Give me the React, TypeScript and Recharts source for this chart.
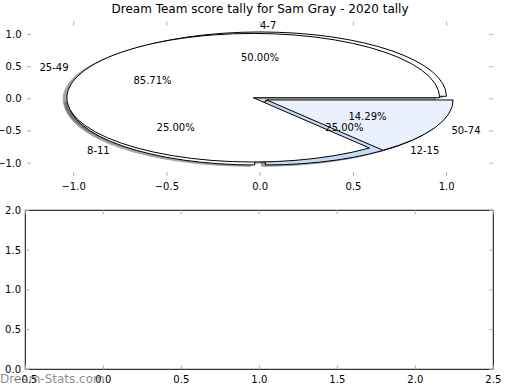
import { ComposedChart, Pie, PieChart, Scatter, XAxis, YAxis } from "recharts";

// first tally (small scores) and second tally (big scores)
const smallNames = ["4-7", "8-11", "12-15"];
const smallValues = [2, 1, 1];
const smallColors = ["#ffffff", "#ffffff", "#c6d9f7"];
const bigNames = ["25-49", "50-74"];
const bigValues = [6, 1];
const bigColors = ["#ffffff", "#eaf1fd"];

const topXTicks = [-1, -0.5, 0, 0.5, 1];
const topYTicks = [-1, -0.5, 0, 0.5, 1];
const bottomXTicks = [-0.5, 0, 0.5, 1, 1.5, 2, 2.5];
const bottomYTicks = [0, 0.5, 1, 1.5, 2];

const smallData = smallNames.map((name, i) => ({ name, value: smallValues[i], fill: smallColors[i] }));
const bigData = bigNames.map((name, i) => ({ name, value: bigValues[i], fill: bigColors[i] }));

const FONT = "DejaVu Sans";
const RX = 186.4; // px per unit on the x axis of the top plot
const RY = 64.3; // px per unit on the y axis
const EXPLODE = 0.04;
const RAD = Math.PI / 180;
const tickColor = "#b0b0b0";
const TICK = 4;

const fmt = (v: number) => v.toFixed(1).replace("-", "\u2212");

function centre(p: any) {
  const rx = p.outerRadius;
  const ry = (rx * RY) / RX;
  const mid = (p.midAngle ?? (p.startAngle + p.endAngle) / 2) * RAD;
  return { rx, ry, mid, ox: p.cx + EXPLODE * rx * Math.cos(mid), oy: p.cy - EXPLODE * ry * Math.sin(mid) };
}

function wedgePath(p: any, dx = 0, dy = 0) {
  const { rx, ry, ox, oy } = centre(p);
  const x = ox + dx;
  const y = oy + dy;
  const a0 = p.startAngle * RAD;
  const a1 = p.endAngle * RAD;
  const large = Math.abs(p.endAngle - p.startAngle) > 180 ? 1 : 0;
  return `M${x},${y} L${x + rx * Math.cos(a0)},${y - ry * Math.sin(a0)} A${rx},${ry} 0 ${large} 0 ${x + rx * Math.cos(a1)},${y - ry * Math.sin(a1)} Z`;
}

function shadowColor(hex: string) {
  const n = parseInt(hex.slice(1), 16);
  const c = [(n >> 16) & 255, (n >> 8) & 255, n & 255].map((v) => Math.round(v * 0.3));
  return `rgb(${c.join(",")})`;
}

const Wedge = (p: any) => <path d={wedgePath(p)} fill={p.payload?.fill ?? p.fill} stroke="#000" strokeWidth={1} />;

const Shadow = (p: any) => {
  const col = shadowColor(p.payload?.fill ?? p.fill);
  return <path d={wedgePath(p, -0.02 * p.outerRadius, 0.02 * (p.outerRadius * RY) / RX)} fill={col} stroke={col} strokeWidth={1} opacity={0.5} />;
};

const Nothing = () => <g />;

const Texts = (p: any) => {
  const { rx, ry, mid, ox, oy } = centre(p);
  const c = Math.cos(mid);
  const s = Math.sin(mid);
  return (
    <g fontFamily={FONT} fontSize={10} fill="#000">
      <text x={ox + 1.1 * rx * c} y={oy - 1.1 * ry * s} textAnchor={c > 0 ? "start" : "end"} dominantBaseline="central">
        {p.name}
      </text>
      <text x={ox + 0.6 * rx * c} y={oy - 0.6 * ry * s} textAnchor="middle" dominantBaseline="central">
        {(p.percent * 100).toFixed(2)}%
      </text>
    </g>
  );
};

// matplotlib style ticks: short grey marks pointing into the plot, labels outside
const bottomTick = (gap: number) => (p: any) => (
  <g>
    <line x1={p.x} x2={p.x} y1={p.y} y2={p.y - TICK} stroke={tickColor} />
    <text x={p.x} y={p.y + gap} textAnchor="middle" dominantBaseline="central" fontFamily={FONT} fontSize={10} fill="#000">
      {fmt(p.payload.value)}
    </text>
  </g>
);
const leftTick = (gap: number) => (p: any) => (
  <g>
    <line x1={p.x} x2={p.x + TICK} y1={p.y} y2={p.y} stroke={tickColor} />
    <text x={p.x - gap} y={p.y} textAnchor="end" dominantBaseline="central" fontFamily={FONT} fontSize={10} fill="#000">
      {fmt(p.payload.value)}
    </text>
  </g>
);
const TopMark = (p: any) => <line x1={p.x} x2={p.x} y1={p.y} y2={p.y + TICK} stroke={tickColor} />;
const RightMark = (p: any) => <line x1={p.x} x2={p.x - TICK} y1={p.y} y2={p.y} stroke={tickColor} />;

const axisBase = { type: "number" as const, tickLine: false, tickSize: 0, tickMargin: 0, interval: 0 as const, allowDataOverflow: true };

export default function App() {
  return (
    <div style={{ position: "absolute", left: 0, top: 0, width: 520, height: 390, background: "#fff", fontFamily: FONT }}>
      <div style={{ position: "absolute", left: 0, width: 520, top: 2, textAlign: "center", fontSize: 12, color: "#000" }}>
        Dream Team score tally for Sam Gray - 2020 tally
      </div>

      <div style={{ position: "absolute", left: 0, top: 0 }}>
        <ComposedChart width={520} height={200} margin={{ top: 20.7, right: 25.7, bottom: 4, left: 0 }}>
          <XAxis {...axisBase} xAxisId="b" dataKey="x" domain={[-1.25, 1.25]} ticks={topXTicks} height={20} axisLine={false} tick={bottomTick(10)} />
          <XAxis {...axisBase} xAxisId="t" dataKey="x" orientation="top" domain={[-1.25, 1.25]} ticks={topXTicks} height={1} axisLine={false} tick={TopMark} />
          <YAxis {...axisBase} yAxisId="l" dataKey="y" domain={[-1.2, 1.2]} ticks={topYTicks} width={27} axisLine={false} tick={leftTick(5.5)} />
          <YAxis {...axisBase} yAxisId="r" dataKey="y" orientation="right" domain={[-1.2, 1.2]} ticks={topYTicks} width={1} axisLine={false} tick={RightMark} />
          <Scatter data={[]} xAxisId="b" yAxisId="l" isAnimationActive={false} />
          <Scatter data={[]} xAxisId="t" yAxisId="r" isAnimationActive={false} />
        </ComposedChart>
      </div>

      <div style={{ position: "absolute", left: 0, top: 0 }}>
        <PieChart width={520} height={200} margin={{ top: 0, right: 0, bottom: 0, left: 0 }}>
          <Pie data={smallData} dataKey="value" cx={260} cy={98.85} outerRadius={RX} shape={Shadow} isAnimationActive={false} />
          <Pie data={bigData} dataKey="value" cx={260} cy={98.85} outerRadius={RX} shape={Shadow} isAnimationActive={false} />
          <Pie data={smallData} dataKey="value" cx={260} cy={98.85} outerRadius={RX} shape={Wedge} isAnimationActive={false} />
          <Pie data={bigData} dataKey="value" cx={260} cy={98.85} outerRadius={RX} shape={Wedge} isAnimationActive={false} />
          <Pie data={smallData} dataKey="value" cx={260} cy={98.85} outerRadius={RX} shape={Nothing} label={Texts} labelLine={false} isAnimationActive={false} />
          <Pie data={bigData} dataKey="value" cx={260} cy={98.85} outerRadius={RX} shape={Nothing} label={Texts} labelLine={false} isAnimationActive={false} />
        </PieChart>
      </div>

      <div style={{ position: "absolute", left: 0, top: 190 }}>
        <ComposedChart width={520} height={200} margin={{ top: 19.3, right: 25.7, bottom: 0.7, left: 0.3 }}>
          <XAxis {...axisBase} xAxisId="b" dataKey="x" domain={[-0.5, 2.5]} ticks={bottomXTicks} height={20} axisLine={{ stroke: "#000" }} tick={bottomTick(9.7)} />
          <XAxis {...axisBase} xAxisId="t" dataKey="x" orientation="top" domain={[-0.5, 2.5]} ticks={bottomXTicks} height={1} axisLine={{ stroke: "#000" }} tick={TopMark} />
          <YAxis {...axisBase} yAxisId="l" dataKey="y" domain={[0, 2]} ticks={bottomYTicks} width={25} axisLine={{ stroke: "#000" }} tick={leftTick(4.3)} />
          <YAxis {...axisBase} yAxisId="r" dataKey="y" orientation="right" domain={[0, 2]} ticks={bottomYTicks} width={1} axisLine={{ stroke: "#000" }} tick={RightMark} />
          <Scatter data={[]} xAxisId="b" yAxisId="l" isAnimationActive={false} />
          <Scatter data={[]} xAxisId="t" yAxisId="r" isAnimationActive={false} />
        </ComposedChart>
      </div>

      <div style={{ position: "absolute", left: 0, top: 372, fontSize: 12, color: "rgba(120,120,120,0.85)" }}>Dream-Stats.com</div>
    </div>
  );
}
